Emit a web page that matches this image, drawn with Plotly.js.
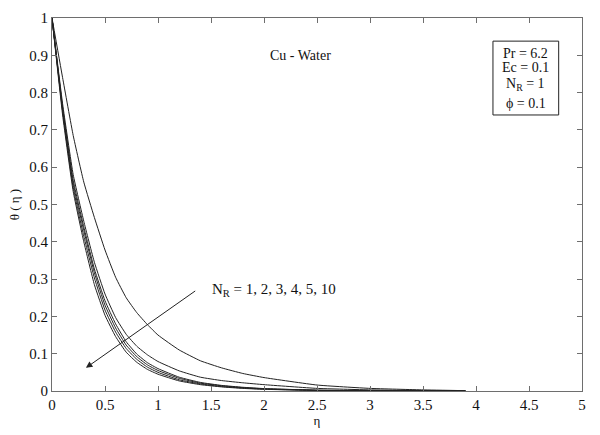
<!DOCTYPE html>
<html>
<head>
<meta charset="utf-8">
<script src="https://cdn.plot.ly/plotly-3.0.1.min.js"></script>
<style>html,body{margin:0;padding:0;background:#fff;}#chart{width:600px;height:435px;}</style>
</head>
<body>
<div id="chart"></div>
<script>
// eta grid
var eta = [0, 0.1, 0.2, 0.3, 0.4, 0.5, 0.6, 0.7, 0.8, 0.9, 1.0, 1.2, 1.4, 1.6, 1.8, 2.0, 2.5, 3.0, 3.5, 3.9];
// theta(eta) for N_R = 1, 2, 3, 4, 5, 10
var thetaNR1  = [1, 0.84, 0.685, 0.56, 0.465, 0.378, 0.305, 0.25, 0.21, 0.178, 0.15, 0.11, 0.081, 0.062, 0.047, 0.036, 0.016, 0.007, 0.003, 0.001];
var thetaNR2  = [1, 0.77, 0.58, 0.455, 0.345, 0.26, 0.197, 0.152, 0.12, 0.097, 0.079, 0.054, 0.037, 0.028, 0.022, 0.017, 0.007, 0.003, 0.001, 0];
var thetaNR3  = [1, 0.76, 0.565, 0.44, 0.327, 0.242, 0.18, 0.132, 0.099, 0.076, 0.060, 0.037, 0.023, 0.015, 0.010, 0.0065, 0.0022, 0.0008, 0.0003, 0];
var thetaNR4  = [1, 0.755, 0.555, 0.43, 0.317, 0.23, 0.169, 0.123, 0.092, 0.070, 0.055, 0.034, 0.021, 0.014, 0.009, 0.006, 0.002, 0.0007, 0.0002, 0];
var thetaNR5  = [1, 0.75, 0.545, 0.415, 0.303, 0.217, 0.158, 0.114, 0.085, 0.064, 0.050, 0.030, 0.019, 0.012, 0.008, 0.005, 0.0017, 0.0006, 0.0002, 0];
var thetaNR10 = [1, 0.74, 0.535, 0.40, 0.285, 0.203, 0.146, 0.104, 0.077, 0.058, 0.045, 0.027, 0.017, 0.011, 0.007, 0.0045, 0.0015, 0.0005, 0.0002, 0];

var series = [thetaNR1, thetaNR2, thetaNR3, thetaNR4, thetaNR5, thetaNR10];
var names = ['N_R = 1', 'N_R = 2', 'N_R = 3', 'N_R = 4', 'N_R = 5', 'N_R = 10'];

var xTicks = [0, 0.5, 1, 1.5, 2, 2.5, 3, 3.5, 4, 4.5, 5];
var xTickText = ['0', '0.5', '1', '1.5', '2', '2.5', '3', '3.5', '4', '4.5', '5'];
var yTicks = [0, 0.1, 0.2, 0.3, 0.4, 0.5, 0.6, 0.7, 0.8, 0.9, 1];
var yTickText = ['0', '0.1', '0.2', '0.3', '0.4', '0.5', '0.6', '0.7', '0.8', '0.9', '1'];

var traces = series.map(function (s, i) {
  return {x: eta, y: s, type: 'scatter', mode: 'lines', name: names[i],
          line: {color: '#222', width: 1, shape: 'spline', smoothing: 0.4}, hoverinfo: 'skip'};
});

var font = 'Liberation Serif, Times New Roman, serif';
var axisCommon = {showline: true, mirror: 'ticks', ticks: 'inside', ticklen: 5, tickwidth: 1,
  linecolor: '#6e6e6e', tickcolor: '#6e6e6e', linewidth: 1, showgrid: false, zeroline: false,
  tickfont: {family: font, size: 15, color: '#111'}};

var layout = {
  width: 600, height: 435,
  margin: {l: 52, r: 18, t: 18, b: 44},
  paper_bgcolor: '#fff', plot_bgcolor: '#fff',
  showlegend: false,
  font: {family: font, color: '#111'},
  xaxis: Object.assign({}, axisCommon, {range: [0, 5], tickvals: xTicks, ticktext: xTickText,
    title: {text: 'η', font: {family: font, size: 13}, standoff: 2}}),
  yaxis: Object.assign({}, axisCommon, {range: [0, 1], tickvals: yTicks, ticktext: yTickText,
    title: {text: 'θ ( η )', font: {family: font, size: 13}, standoff: 6}}),
  shapes: [
    {type: 'rect', xref: 'x', yref: 'y', x0: 4.16, x1: 4.78, y0: 0.74, y1: 0.938,
     line: {color: '#222', width: 1}, fillcolor: 'rgba(0,0,0,0)'}
  ],
  annotations: [
    {x: 2.34, y: 0.90, xref: 'x', yref: 'y', text: 'Cu - Water', showarrow: false,
     font: {family: font, size: 14, color: '#111'}},
    {x: 4.47, y: 0.906, xref: 'x', yref: 'y', text: 'Pr = 6.2', showarrow: false,
     font: {family: font, size: 14, color: '#111'}},
    {x: 4.47, y: 0.866, xref: 'x', yref: 'y', text: 'Ec = 0.1', showarrow: false,
     font: {family: font, size: 14, color: '#111'}},
    {x: 4.47, y: 0.822, xref: 'x', yref: 'y', text: 'N<sub>R</sub> = 1', showarrow: false,
     font: {family: font, size: 14, color: '#111'}},
    {x: 4.47, y: 0.772, xref: 'x', yref: 'y', text: 'ϕ = 0.1', showarrow: false,
     font: {family: font, size: 14, color: '#111'}},
    {x: 1.49, y: 0.27, xref: 'x', yref: 'y', xanchor: 'left', text: 'N<sub>R</sub> = 1, 2, 3, 4, 5, 10',
     showarrow: false, font: {family: font, size: 15, color: '#111'}},
    {x: 0.32, y: 0.062, xref: 'x', yref: 'y', ax: 1.365, ay: 0.271, axref: 'x', ayref: 'y',
     text: '', showarrow: true, arrowhead: 2, arrowsize: 1.3, arrowwidth: 1, arrowcolor: '#222'}
  ]
};

Plotly.newPlot('chart', traces, layout, {displayModeBar: false, staticPlot: true});
</script>
</body>
</html>
